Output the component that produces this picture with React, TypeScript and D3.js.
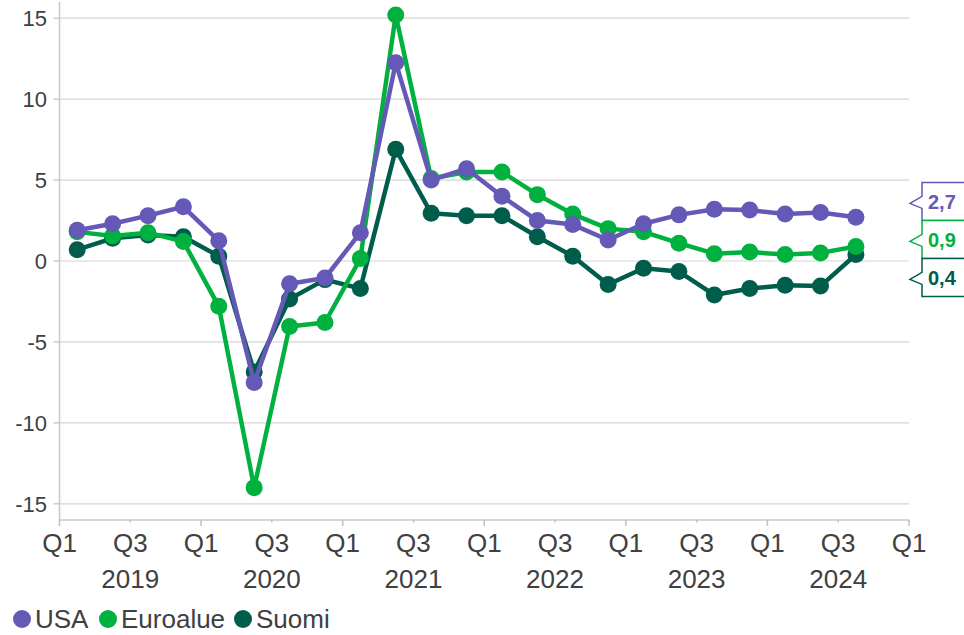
import React from "react";
import * as d3 from "d3";

const quarters = ["Q1","Q2","Q3","Q4"];
const years = [2019, 2020, 2021, 2022, 2023, 2024];
const yTicks = [-15, -10, -5, 0, 5, 10, 15];

const usa = [1.9, 2.3, 2.8, 3.35, 1.25, -7.5, -1.4, -1.05, 1.75, 12.25, 5.0, 5.7, 4.0, 2.5, 2.25, 1.3, 2.3, 2.85, 3.2, 3.15, 2.9, 3.0, 2.7];
const euro = [1.8, 1.55, 1.75, 1.2, -2.8, -14.0, -4.05, -3.8, 0.15, 15.2, 5.1, 5.5, 5.5, 4.1, 2.9, 2.0, 1.8, 1.1, 0.45, 0.55, 0.4, 0.5, 0.9];
const suomi = [0.7, 1.4, 1.6, 1.5, 0.3, -6.85, -2.35, -1.15, -1.7, 6.9, 2.95, 2.8, 2.8, 1.5, 0.3, -1.45, -0.45, -0.65, -2.1, -1.7, -1.5, -1.55, 0.4];

const seriesNames = ["USA", "Euroalue", "Suomi"];
const seriesColors = ["#6459B6", "#00B140", "#005C4B"];

const W = 964, H = 635;
const FONT = "'Liberation Sans', Arial, sans-serif";
const TEXT = "#404040";

export default function App() {
  const nQ = years.length * 4;
  const x = d3.scaleLinear().domain([0, nQ]).range([59.5, 909]);
  const y = d3.scaleLinear().domain([-16, 16]).range([520, 2]);
  const data = [usa, euro, suomi];
  const line = d3.line<number>().x((_, i) => x(i + 0.5)).y((v) => y(v));

  // callout labels with collision resolution
  const boxH = 38;
  const last = data.map((s, k) => ({ k, v: s[s.length - 1], cy: y(s[s.length - 1]) }));
  const sorted = [...last].sort((a, b) => a.cy - b.cy);
  // cluster resolution
  let groups = sorted.map((d) => ({ items: [d], center: d.cy }));
  let changed = true;
  while (changed) {
    changed = false;
    for (let i = 0; i < groups.length - 1; i++) {
      const g1 = groups[i], g2 = groups[i + 1];
      const bottom1 = g1.center + (g1.items.length * boxH) / 2;
      const top2 = g2.center - (g2.items.length * boxH) / 2;
      if (bottom1 > top2) {
        const items = [...g1.items, ...g2.items];
        const center = d3.mean(items, (d) => d.cy) as number;
        groups.splice(i, 2, { items, center });
        changed = true;
        break;
      }
    }
  }
  const labelPos: { k: number; v: number; cy: number }[] = [];
  groups.forEach((g) => {
    const top = g.center - (g.items.length * boxH) / 2;
    g.items.forEach((d, j) => labelPos.push({ k: d.k, v: d.v, cy: top + boxH * j + boxH / 2 }));
  });

  const fmt = (v: number) => d3.format(".1f")(v).replace(".", ",");

  const qTicks = d3.range(0, nQ + 1).filter((i) => i % 2 === 0);

  const legendX = [22, 108, 243];

  return (
    <svg width={W} height={H} style={{ position: "absolute", left: 0, top: 0, background: "#fff" }} fontFamily={FONT}>
      {/* grid */}
      {yTicks.map((t) => (
        <g key={t}>
          <line x1={x(0)} x2={x(nQ)} y1={y(t)} y2={y(t)} stroke="#d4d4d4" strokeWidth={1.2} />
          <line x1={x(0) - 6} x2={x(0)} y1={y(t)} y2={y(t)} stroke="#bfbfbf" strokeWidth={1.2} />
          <text x={47} y={y(t)} dy="0.36em" textAnchor="end" fontSize={22} fill={TEXT}>{t}</text>
        </g>
      ))}
      {/* axes */}
      <line x1={x(0)} x2={x(0)} y1={2} y2={520} stroke="#c8c8c8" strokeWidth={1.5} />
      <line x1={x(0)} x2={x(nQ)} y1={520} y2={520} stroke="#c8c8c8" strokeWidth={1.5} />
      {qTicks.map((i) => (
        <g key={i}>
          <line x1={x(i)} x2={x(i)} y1={520} y2={i % 4 === 0 ? 526 : 522.5} stroke="#bfbfbf" strokeWidth={1.5} />
          <text x={x(i)} y={552} textAnchor="middle" fontSize={26} fill={TEXT}>{quarters[i % 4]}</text>
        </g>
      ))}
      {years.map((yr, j) => (
        <text key={yr} x={x(j * 4 + 2)} y={588} textAnchor="middle" fontSize={26} fill={TEXT}>{yr}</text>
      ))}
      {/* series, bottom first */}
      {[2, 1, 0].map((k) => (
        <g key={k}>
          <path d={line(data[k]) as string} fill="none" stroke={seriesColors[k]} strokeWidth={4.5} strokeLinejoin="round" />
          {data[k].map((v, i) => (
            <circle key={i} cx={x(i + 0.5)} cy={y(v)} r={8.5} fill={seriesColors[k]} />
          ))}
        </g>
      ))}
      {/* callouts */}
      {labelPos.map((d) => {
        const top = d.cy - boxH / 2, bot = d.cy + boxH / 2;
        const bx = 922, tip = 910, right = 980;
        const p = `M${right},${top} L${bx},${top} L${bx},${d.cy - 5} L${tip},${d.cy + 2} L${bx},${d.cy + 7} L${bx},${bot} L${right},${bot}`;
        return (
          <g key={d.k}>
            <path d={p} fill="#fff" stroke={seriesColors[d.k]} strokeWidth={1.5} />
            <text x={928} y={d.cy} dy="0.36em" fontSize={20} fontWeight="bold" fill={seriesColors[d.k]}>{fmt(d.v)}</text>
          </g>
        );
      })}
      {/* legend */}
      {seriesNames.map((n, k) => (
        <g key={n}>
          <circle cx={legendX[k]} cy={619} r={9} fill={seriesColors[k]} />
          <text x={legendX[k] + 13} y={628} fontSize={26} fill={TEXT}>{n}</text>
        </g>
      ))}
    </svg>
  );
}
